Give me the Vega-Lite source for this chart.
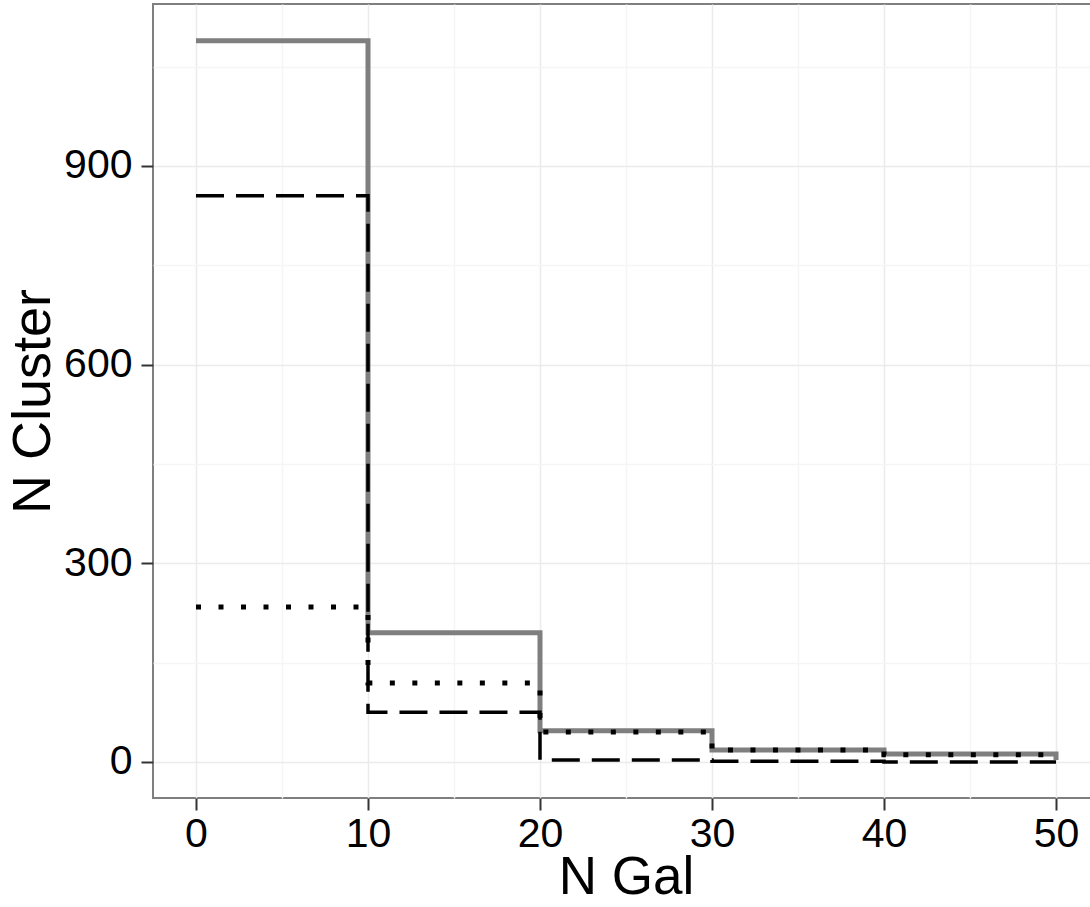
{
  "$schema": "https://vega.github.io/schema/vega-lite/v6.json",
  "autosize": {"type": "none"},
  "padding": {"left": 153, "top": 4, "right": 0, "bottom": 109},
  "width": 946,
  "height": 794,
  "background": "white",
  "config": {
    "view": {"stroke": "#7f7f7f", "strokeWidth": 2},
    "font": "Liberation Sans"
  },
  "data": {
    "values": [
      {"ngal": 0, "ncluster": 1089, "s": "A"},
      {"ngal": 10, "ncluster": 195, "s": "A"},
      {"ngal": 20, "ncluster": 47, "s": "A"},
      {"ngal": 30, "ncluster": 18, "s": "A"},
      {"ngal": 40, "ncluster": 12, "s": "A"},
      {"ngal": 50, "ncluster": 3, "s": "A"},
      {"ngal": 0, "ncluster": 855, "s": "B"},
      {"ngal": 10, "ncluster": 75, "s": "B"},
      {"ngal": 20, "ncluster": 3, "s": "B"},
      {"ngal": 30, "ncluster": 1, "s": "B"},
      {"ngal": 40, "ncluster": 0, "s": "B"},
      {"ngal": 50, "ncluster": 0, "s": "B"},
      {"ngal": 0, "ncluster": 234, "s": "C"},
      {"ngal": 10, "ncluster": 119, "s": "C"},
      {"ngal": 20, "ncluster": 45, "s": "C"},
      {"ngal": 30, "ncluster": 18, "s": "C"},
      {"ngal": 40, "ncluster": 11, "s": "C"},
      {"ngal": 50, "ncluster": 11, "s": "C"}
    ]
  },
  "encoding": {
    "x": {
      "field": "ngal", "type": "quantitative",
      "scale": {"domain": [-2.5, 52.5], "nice": false, "zero": false},
      "axis": {
        "title": "N Gal",
        "values": [0, 5, 10, 15, 20, 25, 30, 35, 40, 45, 50],
        "labelExpr": "datum.value % 10 === 0 ? datum.label : ''",
        "domain": false,
        "grid": true,
        "gridColor": {"condition": {"test": "datum.value % 10 === 0", "value": "#ebebeb"}, "value": "#f5f5f5"},
        "gridWidth": 1.5,
        "tickSize": 12,
        "tickWidth": 2,
        "tickColor": "#333333",
        "tickOpacity": {"condition": {"test": "datum.value % 10 === 0", "value": 1}, "value": 0},
        "labelFontSize": 41,
        "labelColor": "black",
        "labelFont": "Liberation Sans",
        "labelPadding": 4,
        "labelFlush": false,
        "labelOverlap": false,
        "titleFontSize": 53,
        "titleFontWeight": "normal",
        "titleColor": "black",
        "titleFont": "Liberation Sans",
        "titlePadding": -3
      }
    },
    "y": {
      "field": "ncluster", "type": "quantitative",
      "scale": {"domain": [-54.5, 1144.5], "nice": false, "zero": false},
      "axis": {
        "title": "N Cluster",
        "values": [0, 150, 300, 450, 600, 750, 900, 1050],
        "labelExpr": "datum.value % 300 === 0 ? datum.label : ''",
        "domain": false,
        "grid": true,
        "gridColor": {"condition": {"test": "datum.value % 300 === 0", "value": "#ebebeb"}, "value": "#f5f5f5"},
        "gridWidth": 1.5,
        "tickSize": 12,
        "tickWidth": 2,
        "tickColor": "#333333",
        "tickOpacity": {"condition": {"test": "datum.value % 300 === 0", "value": 1}, "value": 0},
        "labelFontSize": 41,
        "labelColor": "black",
        "labelFont": "Liberation Sans",
        "labelPadding": 9,
        "labelFlush": false,
        "labelOverlap": false,
        "titleFontSize": 54,
        "titleFontWeight": "normal",
        "titleColor": "black",
        "titleFont": "Liberation Sans",
        "titlePadding": 3
      }
    }
  },
  "layer": [
    {
      "transform": [{"filter": "datum.s === 'A'"}],
      "mark": {"type": "line", "interpolate": "step-after", "color": "#7f7f7f", "strokeWidth": 5}
    },
    {
      "transform": [{"filter": "datum.s === 'B'"}],
      "mark": {"type": "line", "interpolate": "step-after", "color": "black", "strokeWidth": 3.5, "strokeDash": [28, 12]}
    },
    {
      "transform": [{"filter": "datum.s === 'C'"}],
      "mark": {"type": "line", "interpolate": "step-after", "color": "black", "strokeWidth": 5, "strokeDash": [5, 17.5]}
    }
  ]
}
